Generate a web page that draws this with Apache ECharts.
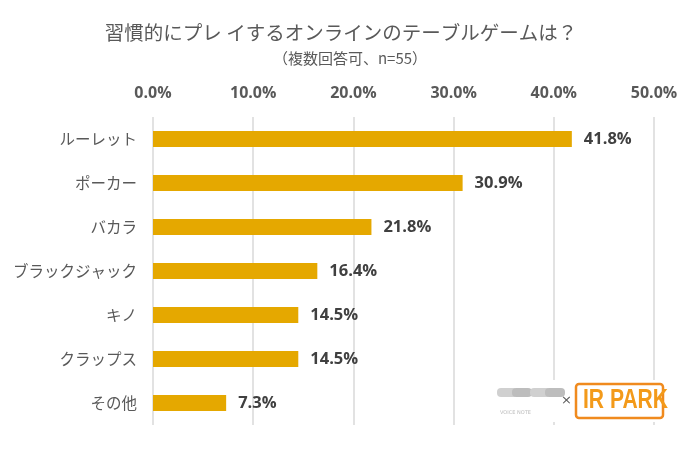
<!DOCTYPE html>
<html><head><meta charset="utf-8">
<script src="https://cdn.jsdelivr.net/npm/echarts@6/dist/echarts.min.js"></script>
<style>html,body{margin:0;padding:0;background:#fff}#c{width:700px;height:450px}</style>
</head><body><div id="c"></div>
<script>
const categories = ['ルーレット','ポーカー','バカラ','ブラックジャック','キノ','クラップス','その他'];
const values = [41.8, 30.9, 21.8, 16.4, 14.5, 14.5, 7.3];
const titleText = '習慣的にプレ イするオンラインのテーブルゲームは？';
const subtitleText = '（複数回答可、n=55）';
const axisMax = 50;
const axisInterval = 10;

const chart = echarts.init(document.getElementById('c'));
chart.setOption({
  backgroundColor: '#fff',
  animation: false,
  title: [{
    text: titleText,
    left: 336, top: 18, textAlign: 'center',
    textStyle: {fontFamily: 'Noto Sans CJK JP', fontSize: 19.5, fontWeight: 'normal', color: '#595959'}
  }, {
    text: subtitleText,
    left: 345, top: 46, textAlign: 'center',
    textStyle: {fontFamily: 'Noto Sans CJK JP', fontSize: 15, fontWeight: 'normal', color: '#595959'}
  }],
  grid: {left: 153, right: 46, top: 117, bottom: 25},
  xAxis: {
    type: 'value', position: 'top', min: 0, max: axisMax, interval: axisInterval,
    axisLine: {show: false}, axisTick: {show: false},
    splitLine: {lineStyle: {color: '#d9d9d9', width: 1.5}},
    axisLabel: {formatter: v => v.toFixed(1) + '%', margin: 16, color: '#595959',
      fontFamily: 'Open Sans', fontWeight: 'bold', fontSize: 16}
  },
  yAxis: {
    type: 'category', data: categories, inverse: true,
    axisLine: {show: false}, axisTick: {show: false},
    axisLabel: {color: '#595959', fontFamily: 'Noto Sans CJK JP', fontSize: 15.5, margin: 16}
  },
  series: [{
    type: 'bar', data: values, barWidth: 16,
    itemStyle: {color: '#E5A800'},
    label: {show: true, position: 'right', distance: 12, formatter: p => p.value.toFixed(1) + '%',
      color: '#404040', fontFamily: 'Open Sans', fontWeight: 'bold', fontSize: 16.5}
  }],
  graphic: [
    {type: 'rect', shape: {x: 492, y: 380, width: 180, height: 42}, style: {fill: '#fff'}, z: 10},
    {type: 'rect', shape: {x: 497, y: 388, width: 20, height: 9, r: 4}, style: {fill: '#d0d0d0'}, z: 11},
    {type: 'rect', shape: {x: 512, y: 388, width: 20, height: 9, r: 4}, style: {fill: '#bdbdbd'}, z: 11},
    {type: 'rect', shape: {x: 530, y: 388, width: 20, height: 9, r: 4}, style: {fill: '#d0d0d0'}, z: 11},
    {type: 'rect', shape: {x: 545, y: 388, width: 20, height: 9, r: 4}, style: {fill: '#bdbdbd'}, z: 11},
    {type: 'text', x: 500, y: 410, style: {text: 'VOICE NOTE', fill: '#bbb', fontSize: 5, fontFamily: 'DejaVu Sans'}, z: 11},
    {type: 'text', x: 561, y: 394, style: {text: '×', fill: '#595959', fontSize: 13, fontFamily: 'DejaVu Sans'}, z: 11},
    {type: 'rect', shape: {x: 576, y: 384, width: 87, height: 34, r: 3},
      style: {fill: '#fff', stroke: '#F08A1E', lineWidth: 2.5}, z: 11},
    {type: 'text', x: 583, y: 387, scaleX: 0.78,
      style: {text: 'IR PARK', fontSize: 27, fontWeight: 'bold',
      fontFamily: 'Liberation Sans', fill: '#F39A1A'}, z: 12}
  ]
});
</script></body></html>
